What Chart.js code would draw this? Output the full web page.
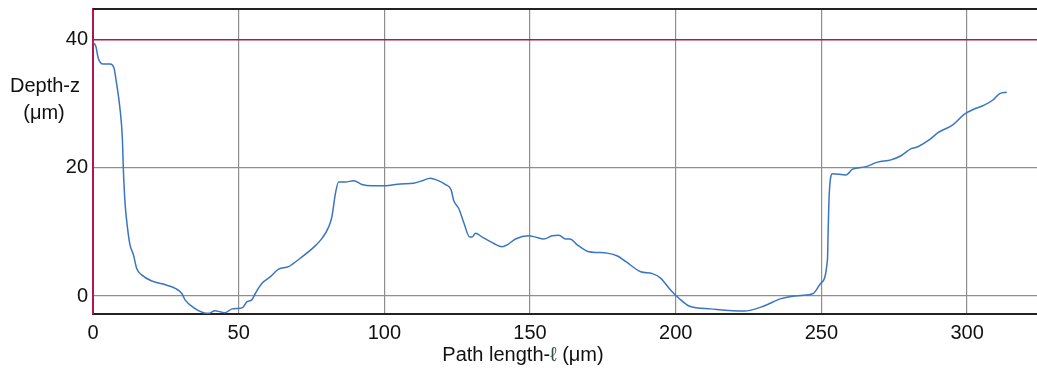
<!DOCTYPE html>
<html>
<head>
<meta charset="utf-8">
<script src="https://cdn.jsdelivr.net/npm/chart.js@4.4.1/dist/chart.umd.min.js"></script>
<style>
  html, body { margin: 0; padding: 0; background: #fff; }
  #wrap { width: 1037px; height: 376px; position: relative; }
</style>
</head>
<body>
<div id="wrap"><canvas id="profile"></canvas></div>
<script>
// surface profile: path length (um) vs depth (um)
const pathLength = [0, 1, 1.8, 3.5, 5.8, 7.2, 7.9, 9.3, 10.1, 10.4, 11, 11.8, 12.7, 13.9, 15, 16.7, 20.2, 25.3, 28.2, 30.5,
  31.6, 34.5, 37.9, 39.6, 41.9, 43.6, 45.4, 47.7, 50.5, 51.6, 52.8, 54.5, 55.7, 58, 60.8, 63.7, 67.1, 71.1, 75.7, 78.6,
  80.9, 82, 83.2, 84.3, 86.6, 89.5, 92.3, 95.8, 100.3, 105.5, 110.1, 113, 115.8, 118.1, 121, 122.9, 123.8, 125.5, 127.3, 129.3,
  130.1, 131.3, 133.6, 137.6, 140.4, 142.2, 145, 149.6, 151.9, 154.7, 157.6, 159.9, 162.2, 163.7, 166.2, 170.2, 173.1, 176.5, 180, 182.8,
  188, 192, 194.8, 198.3, 201.1, 204.6, 212, 223.5, 230.3, 236.1, 243, 247, 249.8, 252.1, 252.3, 252.7, 253.8, 258.4, 260.7, 265.3,
  269.3, 273.9, 277.3, 280.8, 283.1, 287.1, 290, 295.1, 299.1, 302.5, 305.4, 308.9, 311.2, 313.6];
const depth = [39.6, 38.95, 37.1, 36.2, 36.2, 35.6, 33.75, 29.1, 24.4, 20, 14.5, 10.8, 8, 6.4, 4.3, 3.3, 2.35, 1.7, 1.2, 0.4,
  -0.6, -1.8, -2.6, -2.7, -2.3, -2.45, -2.6, -2.0, -1.9, -1.7, -0.9, -0.6, 0.4, 2.0, 3.0, 4.2, 4.6, 5.9, 7.6, 9.0,
  10.8, 12.4, 16.0, 17.8, 17.8, 18.0, 17.4, 17.2, 17.2, 17.5, 17.6, 18.0, 18.4, 18.1, 17.4, 16.6, 14.9, 13.7, 11.4, 9.2,
  9.2, 9.8, 9.2, 8.2, 7.7, 8.0, 8.9, 9.4, 9.2, 8.9, 9.4, 9.5, 8.9, 8.9, 8.0, 6.9, 6.8, 6.7, 6.25, 5.4,
  3.8, 3.5, 2.8, 0.9, -0.35, -1.55, -2.0, -2.35, -1.55, -0.4, 0.1, 0.35, 2.0, 5.8, 9.8, 16, 19.1, 18.9, 19.8, 20.2,
  20.9, 21.25, 21.9, 23, 23.3, 24.4, 25.5, 26.7, 28.4, 29.2, 29.7, 30.6, 31.6, 31.8];

const xTicks = [0, 50, 100, 150, 200, 250, 300];
const yTicks = [0, 20, 40];
const surfaceLevel = 40;

const crimson = '#b3164a';
const gridGrey = '#8e8e8e';
const font = 'Liberation Sans, Arial, sans-serif';

// horizontal axis titles, top frame line
const framePlugin = {
  id: 'frameAndTitles',
  afterDraw(chart) {
    const ctx = chart.ctx;
    const area = chart.chartArea;
    ctx.save();
    ctx.strokeStyle = '#222';
    ctx.lineWidth = 2;
    ctx.beginPath();
    ctx.moveTo(area.left, area.top);
    ctx.lineTo(area.right, area.top);
    ctx.stroke();

    ctx.fillStyle = '#111';
    ctx.font = '20px ' + font;
    ctx.textAlign = 'center';
    ctx.textBaseline = 'middle';
    ctx.fillText('Depth-z', 45, 86);
    ctx.fillText('(\u03bcm)', 44, 113);

    // x title, with the script l in its own colour
    const a = 'Path length-', b = '\u2113', c = ' (\u03bcm)';
    const wa = ctx.measureText(a).width, wb = ctx.measureText(b).width, wc = ctx.measureText(c).width;
    let x = 523 - (wa + wb + wc) / 2;
    ctx.textAlign = 'left';
    ctx.fillText(a, x, 355);
    ctx.fillStyle = '#2e5449';
    ctx.fillText(b, x + wa, 355);
    ctx.fillStyle = '#111';
    ctx.fillText(c, x + wa + wb, 355);
    ctx.restore();
  }
};

new Chart(document.getElementById('profile'), {
  type: 'line',
  data: {
    datasets: [{
      data: pathLength.map((v, i) => ({ x: v, y: depth[i] })),
      borderColor: '#3a75c3',
      borderWidth: 1.5,
      pointRadius: 0,
      cubicInterpolationMode: 'monotone',
      fill: false
    }]
  },
  options: {
    responsive: true,
    maintainAspectRatio: false,
    animation: false,
    layout: { padding: { top: 9, left: 0, right: 0, bottom: 0 } },
    plugins: { legend: { display: false }, tooltip: { enabled: false } },
    scales: {
      x: {
        type: 'linear',
        min: 0,
        max: 324,
        afterBuildTicks: s => { s.ticks = xTicks.map(v => ({ value: v })); },
        afterFit: s => { s.height = 62; s.paddingLeft = 0; s.paddingRight = 0; },
        border: { color: '#222', width: 2 },
        grid: { color: gridGrey, lineWidth: 1.2, drawTicks: false },
        ticks: { color: '#111', font: { family: font, size: 20 }, padding: 7, maxRotation: 0 }
      },
      y: {
        type: 'linear',
        min: -2.8,
        max: 44.8,
        afterBuildTicks: s => { s.ticks = yTicks.map(v => ({ value: v })); },
        afterFit: s => { s.width = 93; s.paddingTop = 0; s.paddingBottom = 0; },
        border: { color: crimson, width: 2 },
        grid: {
          color: c => (c.tick && c.tick.value === surfaceLevel ? crimson : gridGrey),
          lineWidth: c => (c.tick && c.tick.value === surfaceLevel ? 1.6 : 1.2),
          drawTicks: false
        },
        ticks: { color: '#111', font: { family: font, size: 20 }, padding: 5 }
      }
    }
  },
  plugins: [framePlugin]
});
</script>
</body>
</html>
